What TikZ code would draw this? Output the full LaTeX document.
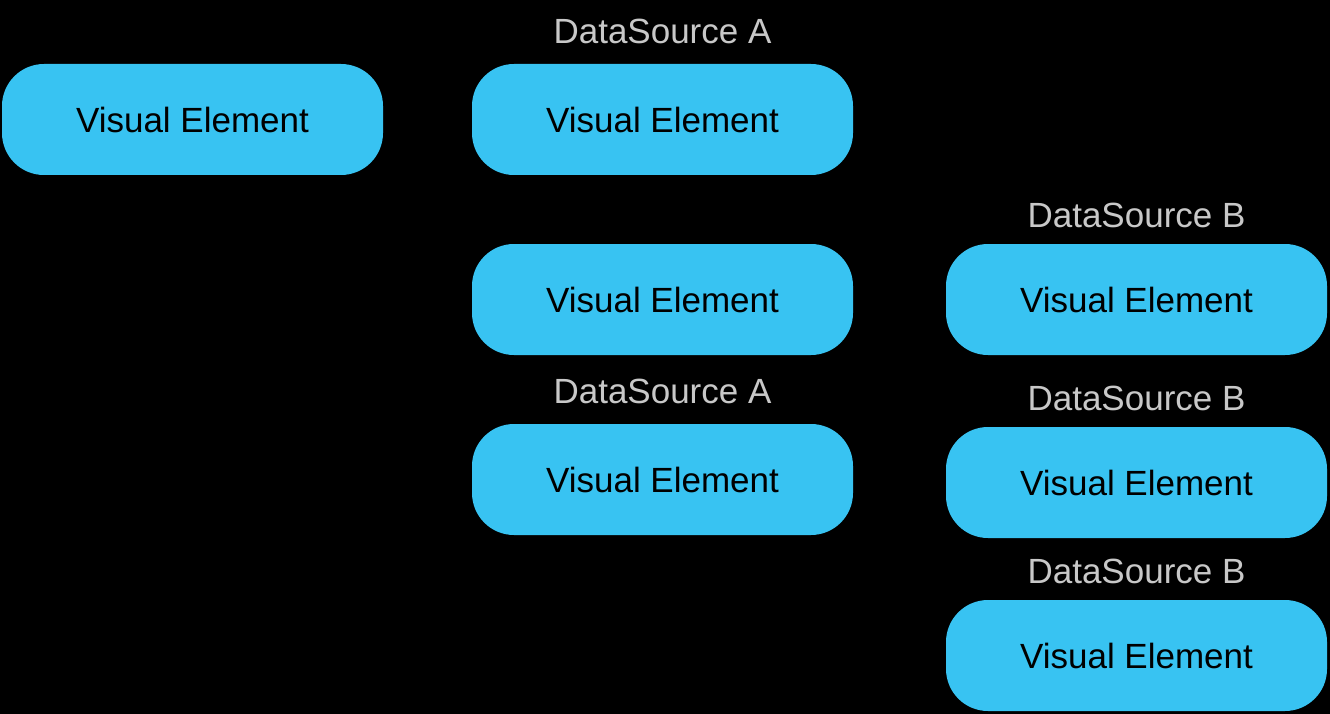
\documentclass[tikz,border=0pt]{standalone}
\usepackage{fontspec}
\setmainfont{Liberation Sans}
\definecolor{boxblue}{RGB}{56,195,242}
\definecolor{labelgrey}{RGB}{200,200,200}
\begin{document}
\begin{tikzpicture}[x=1pt,y=-1pt,
  vbox/.style={fill=boxblue, draw=none, rounded corners=42pt, minimum width=381pt, minimum height=111pt, inner sep=0pt, text=black, font=\fontsize{35}{40}\selectfont},
  dslabel/.style={text=labelgrey, inner sep=0pt, font=\fontsize{35}{40}\selectfont}]
\fill[black] (0,0) rectangle (1330,714);
\useasboundingbox (0,0) rectangle (1330,714);
\node[vbox] (v0) at (192.5,119.5) {Visual Element};
\node[vbox] (a1) at (662.5,119.5) {Visual Element};
\node[vbox] (a2) at (662.5,299.5) {Visual Element};
\node[vbox] (a3) at (662.5,479.5) {Visual Element};
\node[vbox] (b1) at (1136.5,299.5) {Visual Element};
\node[vbox] (b2) at (1136.5,482.5) {Visual Element};
\node[vbox] (b3) at (1136.5,655.5) {Visual Element};
\node[dslabel] (la1) at (662.5,31) {DataSource A};
\node[dslabel] (la3) at (662.5,391) {DataSource A};
\node[dslabel] (lb1) at (1136.5,215) {DataSource B};
\node[dslabel] (lb2) at (1136.5,398) {DataSource B};
\node[dslabel] (lb3) at (1136.5,571) {DataSource B};
\end{tikzpicture}
\end{document}
